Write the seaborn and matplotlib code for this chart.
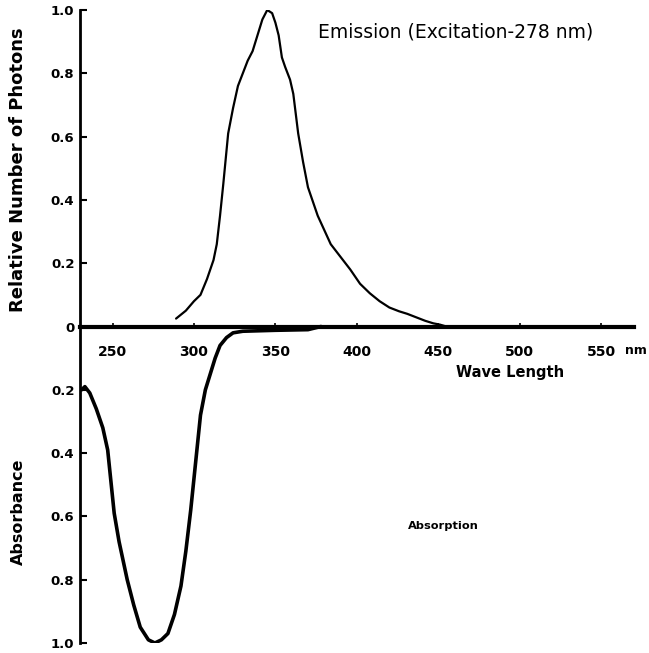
import numpy as np
import pandas as pd
import matplotlib
matplotlib.use("Agg")
import matplotlib.pyplot as plt
import seaborn as sns

# Emission spectrum (excitation 278 nm): wavelength (nm) vs relative number of photons
em_wavelength = [289, 295, 300, 304, 308, 312, 314, 316, 318, 321, 324, 327, 330, 333,
                 336, 339, 342, 345, 348, 350, 352, 354, 356, 359, 361, 364, 367, 370,
                 376, 384, 390, 396, 402, 408, 414, 420, 426, 431, 437, 442, 447, 451, 455]
em_photons = [0.025, 0.05, 0.08, 0.10, 0.15, 0.21, 0.26, 0.35, 0.45, 0.61, 0.69, 0.76,
              0.80, 0.84, 0.87, 0.92, 0.97, 1.00, 0.99, 0.96, 0.92, 0.85, 0.82, 0.78,
              0.735, 0.61, 0.52, 0.44, 0.35, 0.26, 0.22, 0.18, 0.135, 0.105, 0.08, 0.06,
              0.048, 0.04, 0.028, 0.018, 0.01, 0.006, 0.0]

# Absorption spectrum: wavelength (nm) vs absorbance (drawn downward)
ab_wavelength = [231, 233, 236, 240, 244, 247, 249, 251, 254, 259, 263, 267, 272, 276,
                 280, 284, 288, 292, 295, 298, 301, 304, 307, 310, 313, 316, 320, 324,
                 330, 350, 370, 378]
ab_absorbance = [0.20, 0.19, 0.21, 0.26, 0.32, 0.39, 0.49, 0.59, 0.68, 0.80, 0.88, 0.95,
                 0.99, 1.00, 0.99, 0.97, 0.91, 0.82, 0.71, 0.58, 0.43, 0.28, 0.20, 0.15,
                 0.10, 0.06, 0.035, 0.02, 0.015, 0.012, 0.01, 0.0]

x_ticks = [250, 300, 350, 400, 450, 500, 550]
x_tick_labels = ["250", "300", "350", "400", "450", "500", "550"]
y_ticks = [1.0, 0.8, 0.6, 0.4, 0.2, 0.0, -0.2, -0.4, -0.6, -0.8, -1.0]
y_tick_labels = ["1.0", "0.8", "0.6", "0.4", "0.2", "0", "0.2", "0.4", "0.6", "0.8", "1.0"]

sns.set_theme(style="white")
plt.rcParams['font.family'] = ['DejaVu Sans']
plt.rcParams['text.color'] = 'black'

em_df = pd.DataFrame({"wl": em_wavelength, "val": em_photons})
ab_df = pd.DataFrame({"wl": ab_wavelength, "val": -np.array(ab_absorbance)})

fig = plt.figure(figsize=(6.49, 6.53), dpi=100)
ax = fig.add_axes([80 / 649, 10 / 653, (645 - 80) / 649, 633 / 653])

sns.lineplot(data=em_df, x="wl", y="val", sort=False, color="black", linewidth=1.6, ax=ax)
sns.lineplot(data=ab_df, x="wl", y="val", sort=False, color="black", linewidth=2.6, ax=ax)

ax.set_xlim(230, 577)
ax.set_ylim(-1.0, 1.0)

for s in ["top", "right"]:
    ax.spines[s].set_visible(False)
ax.spines["left"].set_color("black")
ax.spines["left"].set_linewidth(2.0)
ax.spines["bottom"].set_position(("data", 0))
ax.spines["bottom"].set_bounds(230, 570)
ax.spines["bottom"].set_color("black")
ax.spines["bottom"].set_linewidth(3.0)

ax.set_xticks(x_ticks)
ax.set_xticklabels(x_tick_labels, fontsize=10, fontweight="bold")
ax.set_yticks(y_ticks)
ax.set_yticklabels(y_tick_labels, fontsize=9.5, fontweight="bold")
ax.tick_params(axis="y", direction="in", length=5, width=1.5, left=True, pad=4,
               colors="black", labelcolor="black")
ax.tick_params(axis="x", direction="in", length=3, width=1.2, bottom=True, pad=13,
               colors="black", labelcolor="black")
ax.set_xlabel("")
ax.set_ylabel("")

ax.text(565, -0.075, "nm", fontsize=9, fontweight="bold", ha="left", va="center")
ax.text(494, -0.145, "Wave Length", fontsize=10.5, fontweight="bold", ha="center", va="center")
ax.text(376, 0.93, "Emission (Excitation-278 nm)", fontsize=13.5, ha="left", va="center")
ax.text(453, -0.63, "Absorption", fontsize=8.2, fontweight="bold", ha="center", va="center")

fig.text(18 / 649, 1 - 170 / 653, "Relative Number of Photons", rotation=90,
         fontsize=13, fontweight="bold", ha="center", va="center")
fig.text(18 / 649, 1 - 512 / 653, "Absorbance", rotation=90,
         fontsize=11.5, fontweight="bold", ha="center", va="center")

fig.savefig("out.png", dpi=100, facecolor="white")
